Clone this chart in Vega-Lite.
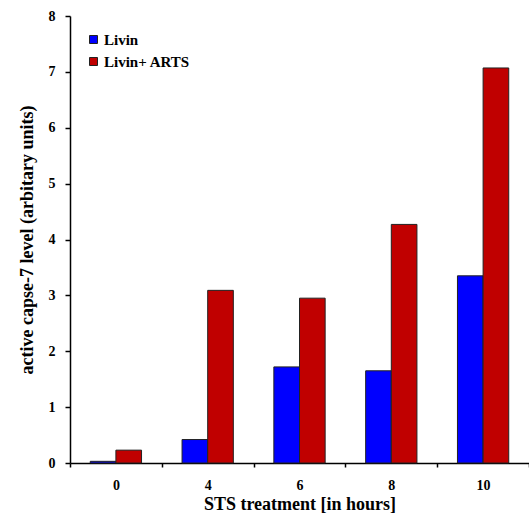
{
  "$schema": "https://vega.github.io/schema/vega-lite/v6.json",
  "autosize": {"type": "none"},
  "width": 459,
  "height": 447,
  "padding": {"left": 70, "top": 16, "right": 0, "bottom": 54},
  "background": "white",
  "config": {
    "view": {"stroke": null},
    "font": "Liberation Serif"
  },
  "data": {
    "values": [
      {"hours": "0", "series": "Livin", "value": 0.03},
      {"hours": "0", "series": "Livin+ ARTS", "value": 0.23},
      {"hours": "4", "series": "Livin", "value": 0.42},
      {"hours": "4", "series": "Livin+ ARTS", "value": 3.09},
      {"hours": "6", "series": "Livin", "value": 1.72},
      {"hours": "6", "series": "Livin+ ARTS", "value": 2.95},
      {"hours": "8", "series": "Livin", "value": 1.65},
      {"hours": "8", "series": "Livin+ ARTS", "value": 4.27},
      {"hours": "10", "series": "Livin", "value": 3.35},
      {"hours": "10", "series": "Livin+ ARTS", "value": 7.07}
    ]
  },
  "mark": {"type": "bar", "stroke": "#222", "strokeWidth": 1},
  "encoding": {
    "x": {
      "field": "hours", "type": "ordinal", "sort": ["0", "4", "6", "8", "10"],
      "scale": {"paddingInner": 0, "paddingOuter": 0},
      "axis": {
        "title": "STS treatment [in hours]",
        "titleFont": "Liberation Serif", "titleFontSize": 18, "titleFontWeight": "bold", "titleColor": "black", "titlePadding": 3,
        "labelFont": "Liberation Serif", "labelFontSize": 14, "labelFontWeight": "bold", "labelColor": "black", "labelAngle": 0, "labelPadding": 11,
        "tickBand": "extent", "tickColor": "black", "tickSize": 4, "tickWidth": 1.5,
        "domainColor": "black", "domainWidth": 1.5
      }
    },
    "xOffset": {"field": "series", "type": "nominal", "sort": ["Livin", "Livin+ ARTS"], "scale": {"paddingInner": 0, "paddingOuter": 0.79}},
    "y": {
      "field": "value", "type": "quantitative",
      "scale": {"domain": [0, 8], "nice": false},
      "axis": {
        "title": "active capse-7 level (arbitary units)",
        "titleFont": "Liberation Serif", "titleFontSize": 18, "titleFontWeight": "bold", "titleColor": "black", "titlePadding": 12,
        "labelFont": "Liberation Serif", "labelFontSize": 14, "labelFontWeight": "bold", "labelColor": "black", "labelPadding": 10,
        "values": [0, 1, 2, 3, 4, 5, 6, 7, 8],
        "grid": false, "tickColor": "black", "tickSize": 5, "tickWidth": 1.5,
        "domainColor": "black", "domainWidth": 1.5
      }
    },
    "color": {
      "field": "series", "type": "nominal",
      "scale": {"domain": ["Livin", "Livin+ ARTS"], "range": ["#0000FF", "#C00000"]},
      "legend": {
        "title": null, "orient": "top-left", "offset": 10,
        "symbolType": "square", "symbolSize": 64, "symbolStrokeColor": "#222", "symbolStrokeWidth": 1,
        "labelFont": "Liberation Serif", "labelFontSize": 15, "labelFontWeight": "bold", "labelColor": "black",
        "rowPadding": 6, "labelOffset": 3, "padding": 6
      }
    }
  }
}
